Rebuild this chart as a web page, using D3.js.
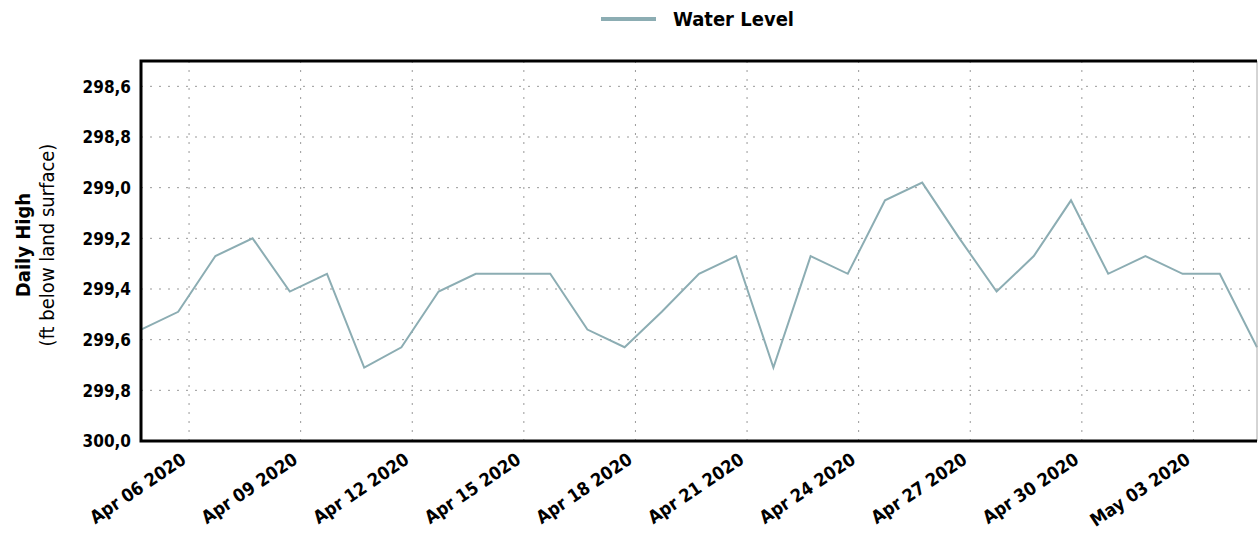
<!DOCTYPE html>
<html>
<head>
<meta charset="utf-8">
<script src="https://cdn.jsdelivr.net/npm/d3@7"></script>
<style>
  body { margin: 0; background: #fff; }
  text { font-family: "DejaVu Sans Condensed", "DejaVu Sans", sans-serif; font-weight: bold; fill: #000; }
  .grid line { stroke: #999; stroke-dasharray: 2,7; }
</style>
</head>
<body>
<script>
var svgWidth = 1258;
var svgHeight = 537;

// daily readings (times as shown in the reference, 17:00 each day)
var dates = [
  "2020-04-04T17:00:00Z", "2020-04-05T17:00:00Z", "2020-04-06T17:00:00Z", "2020-04-07T17:00:00Z",
  "2020-04-08T17:00:00Z", "2020-04-09T17:00:00Z", "2020-04-10T17:00:00Z", "2020-04-11T17:00:00Z",
  "2020-04-12T17:00:00Z", "2020-04-13T17:00:00Z", "2020-04-14T17:00:00Z", "2020-04-15T17:00:00Z",
  "2020-04-16T17:00:00Z", "2020-04-17T17:00:00Z", "2020-04-18T17:00:00Z", "2020-04-19T17:00:00Z",
  "2020-04-20T17:00:00Z", "2020-04-21T17:00:00Z", "2020-04-22T17:00:00Z", "2020-04-23T17:00:00Z",
  "2020-04-24T17:00:00Z", "2020-04-25T17:00:00Z", "2020-04-26T17:00:00Z", "2020-04-27T17:00:00Z",
  "2020-04-28T17:00:00Z", "2020-04-29T17:00:00Z", "2020-04-30T17:00:00Z", "2020-05-01T17:00:00Z",
  "2020-05-02T17:00:00Z", "2020-05-03T17:00:00Z", "2020-05-04T17:00:00Z"
];
var waterLevel = [
  299.56, 299.49, 299.27, 299.20, 299.41, 299.34, 299.71, 299.63,
  299.41, 299.34, 299.34, 299.34, 299.56, 299.63, 299.49, 299.34,
  299.27, 299.71, 299.27, 299.34, 299.05, 298.98, 299.20, 299.41,
  299.27, 299.05, 299.34, 299.27, 299.34, 299.34, 299.63
];
var xTickDates = ["2020-04-06", "2020-04-09", "2020-04-12", "2020-04-15", "2020-04-18",
  "2020-04-21", "2020-04-24", "2020-04-27", "2020-04-30", "2020-05-03"];
var yTicks = [298.6, 298.8, 299.0, 299.2, 299.4, 299.6, 299.8, 300.0];
var yDomain = [298.5, 300.0];
var seriesName = "Water Level";
var yTitle = ["Daily High", "(ft below land surface)"];

var margin = { top: 61, right: 1, bottom: 96, left: 141 };
var chartWidth = svgWidth - margin.left - margin.right;
var chartHeight = svgHeight - margin.top - margin.bottom;
var lineColor = "#8cadb3";

var data = dates.map(function(d, i) {
  return { date: new Date(d), value: waterLevel[i] };
});

var svg = d3.select("body")
  .append("svg")
  .attr("width", svgWidth)
  .attr("height", svgHeight);

var chartGroup = svg.append("g")
  .attr("transform", `translate(${margin.left}, ${margin.top})`);

var xScale = d3.scaleUtc()
  .domain(d3.extent(data, d => d.date))
  .range([0, chartWidth]);

var yScale = d3.scaleLinear()
  .domain(yDomain)
  .range([0, chartHeight]);

var tickDates = xTickDates.map(d => new Date(d + "T00:00:00Z"));
var fmtDate = d3.utcFormat("%b %d %Y");
var fmtNum = v => d3.format(".1f")(v).replace(".", ",");

// grid
chartGroup.append("g")
  .attr("class", "grid")
  .selectAll("line.v")
  .data(tickDates)
  .enter().append("line")
  .attr("x1", d => xScale(d)).attr("x2", d => xScale(d))
  .attr("y1", 0).attr("y2", chartHeight);

chartGroup.append("g")
  .attr("class", "grid")
  .selectAll("line.h")
  .data(yTicks)
  .enter().append("line")
  .attr("x1", 0).attr("x2", chartWidth)
  .attr("y1", d => yScale(d)).attr("y2", d => yScale(d));

// line
var line = d3.line()
  .x(d => xScale(d.date))
  .y(d => yScale(d.value));

chartGroup.append("path")
  .datum(data)
  .attr("fill", "none")
  .attr("stroke", lineColor)
  .attr("stroke-width", 2)
  .attr("d", line);

// frame
chartGroup.append("line")
  .attr("x1", chartWidth).attr("x2", chartWidth)
  .attr("y1", 0).attr("y2", chartHeight)
  .attr("stroke", "#aaa").attr("stroke-width", 1);
chartGroup.append("path")
  .attr("d", `M${chartWidth},0H0V${chartHeight}H${chartWidth}`)
  .attr("fill", "none")
  .attr("stroke", "#000")
  .attr("stroke-width", 3);

// axes
var leftAxis = d3.axisLeft(yScale)
  .tickValues(yTicks)
  .tickFormat(fmtNum)
  .tickSize(0)
  .tickPadding(10);

chartGroup.append("g")
  .call(leftAxis)
  .call(g => g.select(".domain").remove())
  .selectAll("text")
  .style("font-size", "17px")
  .attr("dy", "0.35em");

var bottomAxis = d3.axisBottom(xScale)
  .tickValues(tickDates)
  .tickFormat(fmtDate)
  .tickSize(0);

chartGroup.append("g")
  .attr("transform", `translate(0, ${chartHeight})`)
  .call(bottomAxis)
  .call(g => g.select(".domain").remove())
  .selectAll("text")
  .style("font-size", "18px")
  .attr("text-anchor", "end")
  .attr("dy", 0)
  .attr("transform", "translate(-4, 19) rotate(-34)");

// y title
var yt = svg.append("text")
  .attr("transform", `translate(33, ${margin.top + chartHeight / 2 - 6}) rotate(-90)`)
  .attr("text-anchor", "middle")
  .style("font-size", "20px");
yt.append("tspan").attr("x", 0).attr("dy", "-0.15em").text(yTitle[0]);
yt.append("tspan").attr("x", 0).attr("dy", "1.2em").style("font-weight", "normal").text(yTitle[1]);

// legend
var legend = svg.append("g").attr("transform", "translate(601, 19)");
legend.append("line")
  .attr("x1", 0).attr("x2", 55)
  .attr("stroke", lineColor)
  .attr("stroke-width", 4);
legend.append("text")
  .attr("x", 72)
  .attr("dy", "0.35em")
  .style("font-size", "20px")
  .text(seriesName);
</script>
</body>
</html>
